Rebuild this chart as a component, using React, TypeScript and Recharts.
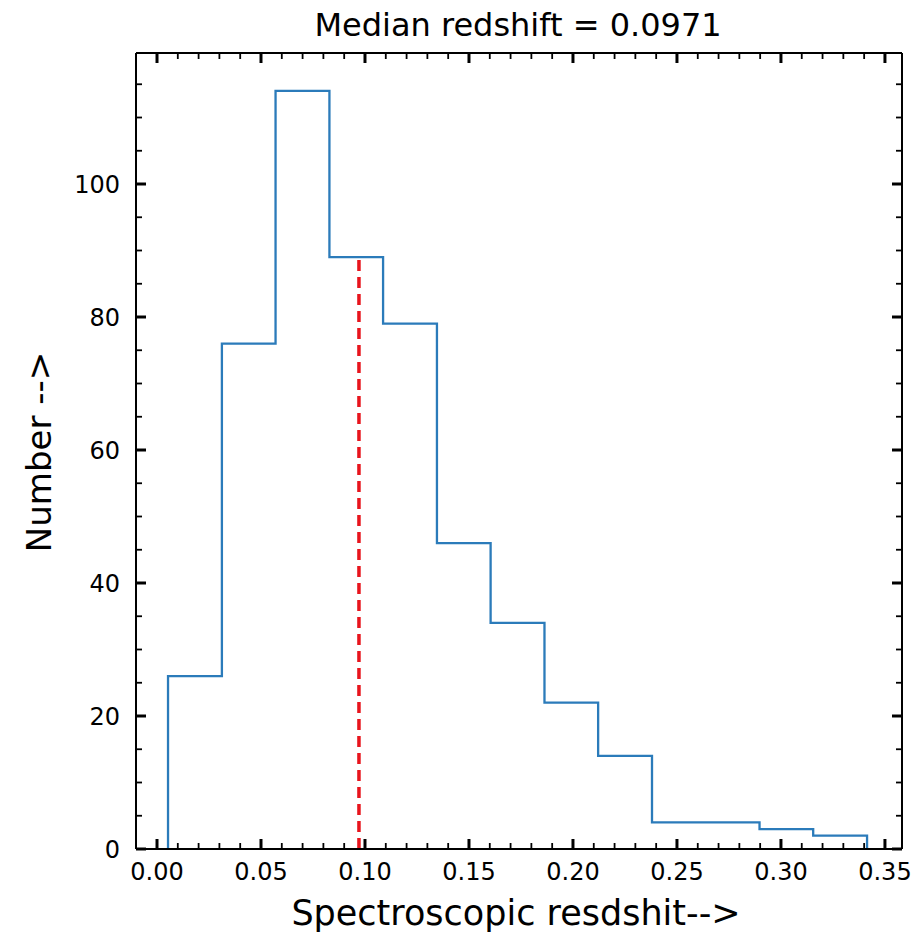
import React from "react";
import {
  LineChart,
  Line,
  XAxis,
  YAxis,
  ReferenceLine,
} from "recharts";

// histogram bin edges (spectroscopic redshift) and counts per bin
const binEdges = [
  0.0053, 0.0312, 0.057, 0.0829, 0.1087, 0.1346, 0.1604, 0.1863, 0.2121,
  0.238, 0.2638, 0.2897, 0.3155, 0.3414,
];
const binCounts = [26, 76, 114, 89, 79, 46, 34, 22, 14, 4, 4, 3, 2];

const medianZ = 0.0971;
const medianHeight = 89;

const xMajorTicks = [0, 0.05, 0.1, 0.15, 0.2, 0.25, 0.3, 0.35];
const yMajorTicks = [0, 20, 40, 60, 80, 100];
const xMinorTicks = Array.from({ length: 36 }, (_, i) => i / 100);
const yMinorTicks = Array.from({ length: 24 }, (_, i) => i * 5);

const xDomain = [-0.0101, 0.3582];
const yDomain = [0, 119.7];

// step outline: start at zero, rise to each bin, drop back to zero at the end
const stepData = [
  { x: binEdges[0], y: 0 },
  ...binCounts.map((c, i) => ({ x: binEdges[i], y: c })),
  { x: binEdges[binEdges.length - 1], y: 0 },
];

const FONT = "'DejaVu Sans', sans-serif";
const isMajorX = (v: number) => xMajorTicks.some((t) => Math.abs(t - v) < 1e-6);
const isMajorY = (v: number) => yMajorTicks.includes(v);

const MAJOR_LEN = 10;
const MINOR_LEN = 6;
const MAJOR_W = 3;
const MINOR_W = 1.8;

function BottomTick({ x, y, payload }: any) {
  const major = isMajorX(payload.value);
  return (
    <g>
      <line
        x1={x}
        x2={x}
        y1={y}
        y2={y - (major ? MAJOR_LEN : MINOR_LEN)}
        stroke="#000"
        strokeWidth={major ? MAJOR_W : MINOR_W}
      />
      {major && (
        <text x={x} y={y + 31} textAnchor="middle" fontSize={24} fontFamily={FONT} fill="#000">
          {payload.value.toFixed(2)}
        </text>
      )}
    </g>
  );
}

function TopTick({ x, y, payload }: any) {
  const major = isMajorX(payload.value);
  return (
    <line
      x1={x}
      x2={x}
      y1={y}
      y2={y + (major ? MAJOR_LEN : MINOR_LEN)}
      stroke="#000"
      strokeWidth={major ? MAJOR_W : MINOR_W}
    />
  );
}

function LeftTick({ x, y, payload }: any) {
  const major = isMajorY(payload.value);
  return (
    <g>
      <line
        x1={x}
        x2={x + (major ? MAJOR_LEN : MINOR_LEN)}
        y1={y}
        y2={y}
        stroke="#000"
        strokeWidth={major ? MAJOR_W : MINOR_W}
      />
      {major && (
        <text x={x - 16} y={y + 9} textAnchor="end" fontSize={24} fontFamily={FONT} fill="#000">
          {payload.value}
        </text>
      )}
    </g>
  );
}

function RightTick({ x, y, payload }: any) {
  const major = isMajorY(payload.value);
  return (
    <line
      x1={x}
      x2={x - (major ? MAJOR_LEN : MINOR_LEN)}
      y1={y}
      y2={y}
      stroke="#000"
      strokeWidth={major ? MAJOR_W : MINOR_W}
    />
  );
}

const axisLine = { stroke: "#000", strokeWidth: 2 };

export default function App() {
  return (
    <div
      style={{
        position: "absolute",
        left: 0,
        top: 0,
        width: 921,
        height: 934,
        background: "#fff",
      }}
    >
      <LineChart
        width={921}
        height={934}
        data={stepData}
        margin={{ top: 43, right: 9, bottom: 45, left: 76 }}
      >
        <XAxis
          dataKey="x"
          type="number"
          domain={xDomain}
          allowDataOverflow
          ticks={xMinorTicks}
          interval={0}
          tickSize={0}
          tickMargin={0}
          tickLine={false}
          axisLine={axisLine}
          height={40}
          tick={(p: any) => <BottomTick {...p} />}
        />
        <XAxis
          xAxisId="top"
          orientation="top"
          dataKey="x"
          type="number"
          domain={xDomain}
          allowDataOverflow
          ticks={xMinorTicks}
          interval={0}
          tickSize={0}
          tickMargin={0}
          tickLine={false}
          axisLine={axisLine}
          height={10}
          tick={(p: any) => <TopTick {...p} />}
        />
        <YAxis
          type="number"
          domain={yDomain}
          allowDataOverflow
          ticks={yMinorTicks}
          interval={0}
          tickSize={0}
          tickMargin={0}
          tickLine={false}
          axisLine={axisLine}
          width={60}
          tick={(p: any) => <LeftTick {...p} />}
        />
        <YAxis
          yAxisId="right"
          orientation="right"
          type="number"
          domain={yDomain}
          allowDataOverflow
          ticks={yMinorTicks}
          interval={0}
          tickSize={0}
          tickMargin={0}
          tickLine={false}
          axisLine={axisLine}
          width={10}
          tick={(p: any) => <RightTick {...p} />}
        />
        <Line
          type="stepAfter"
          dataKey="y"
          stroke="#2b7bba"
          strokeWidth={2.3}
          dot={false}
          activeDot={false}
          isAnimationActive={false}
        />
        <ReferenceLine
          segment={[
            { x: medianZ, y: 0 },
            { x: medianZ, y: medianHeight },
          ]}
          stroke="#e8141c"
          strokeWidth={3.5}
          strokeDasharray="11 6"
        />
      </LineChart>
      <svg
        width={921}
        height={934}
        style={{ position: "absolute", left: 0, top: 0, pointerEvents: "none" }}
      >
        <text x={518} y={36} textAnchor="middle" fontSize={32} fontFamily={FONT} fill="#000">
          Median redshift = 0.0971
        </text>
        <text x={516} y={925} textAnchor="middle" fontSize={35} fontFamily={FONT} fill="#000">
          Spectroscopic resdshit--&gt;
        </text>
        <text
          transform="translate(51,452) rotate(-90)"
          textAnchor="middle"
          fontSize={34}
          fontFamily={FONT}
          fill="#000"
        >
          Number --&gt;
        </text>
      </svg>
    </div>
  );
}
